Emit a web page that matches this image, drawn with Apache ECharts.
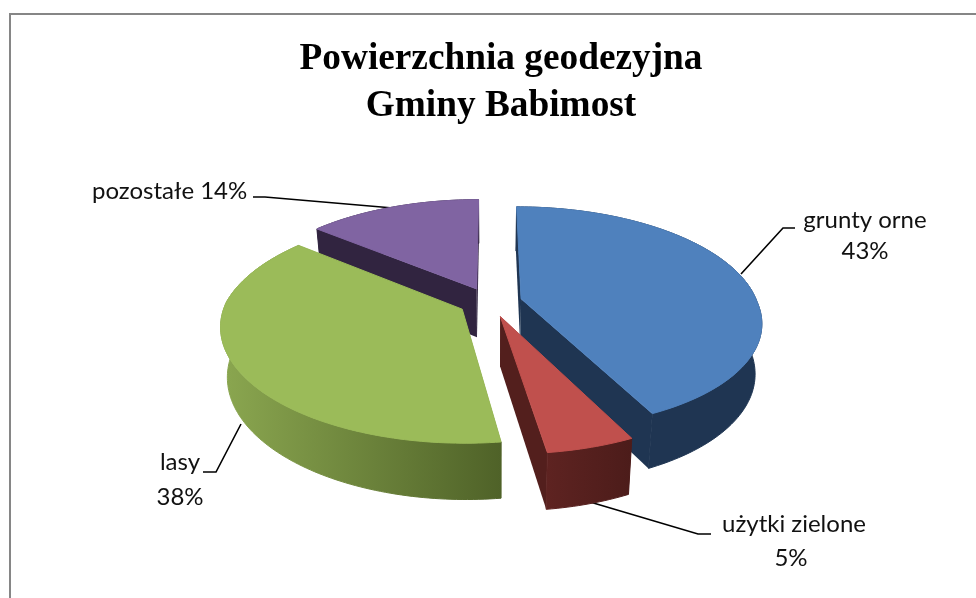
<!DOCTYPE html>
<html>
<head>
<meta charset="utf-8">
<style>
  html, body { margin: 0; padding: 0; background: #fff; }
  #chart { width: 976px; height: 598px; }
</style>
<script src="https://cdn.jsdelivr.net/npm/echarts@6/dist/echarts.min.js"></script>
</head>
<body>
<div id="chart"></div>
<script>
const titleLines = ['Powierzchnia geodezyjna', 'Gminy Babimost']
const categories = ['grunty orne', 'użytki zielone', 'lasy', 'pozostałe']
const values = [43, 5, 38, 14]
// kolejnosc malowania: od tylu do przodu
const paintOrder = [3, 0, 2, 1]
const topColors = ['#4F81BD', '#C0504D', '#9BBB59', '#8064A2']
const faceColors = ['#1F3552', '#531F1D', '#4F6228', '#312440']
const wallStops = [
  ['#1F3552', '#1F3552'],
  ['#5E2321', '#4C1C1A'],
  ['#8BA750', '#4F6228'],
  ['#312440', '#312440']
]

// parametry rzutu 3D
const cx = 490
const cy = 302
const radius = 236
const explode = 32
const squash = 0.46
const persp = 0.00072
const skew = 0.037
const depth = 49
const bottomScale = 0.975

const total = values.reduce((a, b) => a + b, 0)
const toRad = (v) => (v / total) * Math.PI * 2

// katy poczatku i konca kazdego wycinka
const slices = []
values.reduce((start, v) => {
  slices.push({ start, end: start + toRad(v) })
  return start + toRad(v)
}, 0)

function project(X, Y, bottom) {
  const w = 1 / (1 + persp * Y)
  const k = bottom ? bottomScale : 1
  const sx = cx + X * w * k + (Y < 0 ? -Y * skew : 0)
  const sy = cy - squash * Y * w * k + (bottom ? depth * w : 0)
  return [sx, sy]
}

function point(slice, r, t, bottom) {
  const mid = (slice.start + slice.end) / 2
  const X = explode * Math.sin(mid) + r * Math.sin(t)
  const Y = explode * Math.cos(mid) + r * Math.cos(t)
  return project(X, Y, bottom)
}

function arc(slice, bottom) {
  const pts = []
  const n = Math.ceil((slice.end - slice.start) / 0.02)
  for (let i = 0; i <= n; i++) {
    pts.push(point(slice, radius, slice.start + ((slice.end - slice.start) * i) / n, bottom))
  }
  return pts
}

// stroke w kolorze wypelnienia zakrywa szczeliny miedzy scianami
function poly(points, fill, sealed) {
  return {
    type: 'polygon',
    shape: { points },
    style: { fill, stroke: sealed ? fill : null, lineWidth: 1 }
  }
}

function radialFace(slice, t, fill) {
  return poly([
    point(slice, 0, t, false),
    point(slice, radius, t, false),
    point(slice, radius, t, true),
    point(slice, 0, t, true)
  ], fill, false)
}

function renderSlice(params, api) {
  const i = api.value(0)
  const s = slices[i]
  const topArc = arc(s, false)
  const wallFill = new echarts.graphic.LinearGradient(0, 0, 1, 0, [
    { offset: 0, color: wallStops[i][0] },
    { offset: 1, color: wallStops[i][1] }
  ])
  return {
    type: 'group',
    children: [
      radialFace(s, s.start, faceColors[i]),
      radialFace(s, s.end, faceColors[i]),
      poly(topArc.concat(arc(s, true).reverse()), wallFill, true),
      poly([point(s, 0, s.start, false)].concat(topArc), topColors[i], true)
    ]
  }
}

function line(points, stroke, lineWidth) {
  return {
    type: 'polyline',
    shape: { points },
    style: { stroke, lineWidth, fill: null }
  }
}

function label(text, x, y, align) {
  return {
    type: 'text',
    x,
    y,
    style: {
      text,
      fill: '#111',
      font: '24px Lato, "Noto Sans", sans-serif',
      align: align || 'center',
      verticalAlign: 'middle'
    }
  }
}

const chart = echarts.init(document.getElementById('chart'), null, { renderer: 'canvas' })
chart.setOption({
  animation: false,
  backgroundColor: '#fff',
  title: {
    text: titleLines.join('\n'),
    left: 496,
    top: 31,
    textAlign: 'center',
    textStyle: {
      fontFamily: '"Liberation Serif", serif',
      fontWeight: 'bold',
      fontSize: 37.3,
      lineHeight: 47,
      color: '#000'
    }
  },
  graphic: [
    line([[10, 598], [10, 14], [976, 14]], '#868686', 2),
    line([[741, 274], [783, 228], [795, 228]], '#000', 1.6),
    line([[590, 502], [698, 534], [711, 534]], '#000', 1.6),
    line([[241, 424], [216, 472], [203, 472]], '#000', 1.6),
    line([[253, 197], [265, 197], [393, 208]], '#000', 1.6),
    label(categories[0], 865, 220),
    label(values[0] + '%', 865, 251),
    label(categories[1], 794, 524),
    label(values[1] + '%', 791, 558),
    label(categories[2], 180, 462),
    label(values[2] + '%', 180, 497),
    label(categories[3] + ' ' + values[3] + '%', 92, 191, 'left')
  ],
  series: [
    {
      type: 'custom',
      coordinateSystem: 'none',
      renderItem: renderSlice,
      data: paintOrder.map((i) => [i]),
      silent: true
    }
  ]
})
</script>
</body>
</html>
